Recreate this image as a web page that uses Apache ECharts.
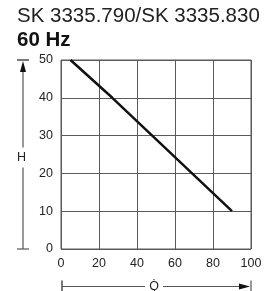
<!DOCTYPE html>
<html>
<head>
<meta charset="utf-8">
<script src="https://cdn.jsdelivr.net/npm/echarts@6/dist/echarts.min.js"></script>
<style>
html, body { margin: 0; padding: 0; background: #fff; }
#chart { width: 278px; height: 291px; }
</style>
</head>
<body>
<div id="chart"></div>
<script>
// pump curve
var flowQ = [5, 27, 48, 69, 90];
var headH = [50, 40, 30, 20, 10];
var titleText = 'SK 3335.790/SK 3335.830';
var subText = '60 Hz';

var chart = echarts.init(document.getElementById('chart'));
var gridCol = '#5a5a5a';

var option = {
    animation: false,
    title: [
        { text: titleText, left: 12, top: 1,
          textStyle: { fontFamily: 'Liberation Sans', fontWeight: 'normal', fontSize: 20.5, color: '#222' } },
        { text: subText, left: 12, top: 25,
          textStyle: { fontFamily: 'Liberation Sans', fontWeight: 'bold', fontSize: 20.5, color: '#111' } }
    ],
    grid: { left: 61, right: 27, top: 60, bottom: 42, show: true, borderColor: gridCol, borderWidth: 1 },
    xAxis: {
        type: 'value', min: 0, max: 100, interval: 20,
        axisLine: { show: false }, axisTick: { show: false },
        axisLabel: { color: '#222', fontSize: 12.5, fontFamily: 'Liberation Sans', margin: 8 },
        splitLine: { lineStyle: { color: gridCol, width: 1 } }
    },
    yAxis: {
        type: 'value', min: 0, max: 50, interval: 10,
        axisLine: { show: false }, axisTick: { show: false },
        axisLabel: { color: '#222', fontSize: 12.5, fontFamily: 'Liberation Sans', margin: 8 },
        splitLine: { lineStyle: { color: gridCol, width: 1 } }
    },
    series: [{
        type: 'line',
        data: flowQ.map(function (q, i) { return [q, headH[i]]; }),
        showSymbol: false,
        lineStyle: { color: '#111', width: 2.5 }
    }]
};
chart.setOption(option);

// dimension arrows for H and Q, placed from the grid's own pixel positions
var p0 = chart.convertToPixel({ gridIndex: 0 }, [0, 0]);
var p1 = chart.convertToPixel({ gridIndex: 0 }, [100, 50]);
var ax = 23, ay = 286.5;
var ln = { stroke: '#555', lineWidth: 1.2 };
var midY = (p0[1] + p1[1]) / 2 + 3;
var midX = (p0[0] + p1[0]) / 2 - 2;
chart.setOption({
    graphic: [
        // vertical H
        { type: 'line', shape: { x1: ax - 6, y1: p1[1], x2: ax + 6, y2: p1[1] }, style: { stroke: '#222', lineWidth: 1.2 } },
        { type: 'line', shape: { x1: ax - 6, y1: p0[1], x2: ax + 6, y2: p0[1] }, style: ln },
        { type: 'line', shape: { x1: ax, y1: p1[1] + 4, x2: ax, y2: midY - 10 }, style: ln },
        { type: 'line', shape: { x1: ax, y1: midY + 10, x2: ax, y2: p0[1] }, style: ln },
        { type: 'polygon', shape: { points: [[ax, p1[1] + 1], [ax - 3, p1[1] + 12], [ax + 3, p1[1] + 12]] }, style: { fill: '#111' } },
        { type: 'text', x: ax - 1.5, y: midY, style: { text: 'H', fontSize: 12.5, fontFamily: 'Liberation Sans', fill: '#222', align: 'center', verticalAlign: 'middle' } },
        // horizontal Q
        { type: 'line', shape: { x1: p0[0] + 1, y1: ay - 6, x2: p0[0] + 1, y2: ay + 6 }, style: { stroke: '#222', lineWidth: 1.2 } },
        { type: 'line', shape: { x1: p1[0], y1: ay - 6, x2: p1[0], y2: ay + 6 }, style: ln },
        { type: 'line', shape: { x1: p0[0] + 1, y1: ay, x2: midX - 9, y2: ay }, style: ln },
        { type: 'line', shape: { x1: midX + 9, y1: ay, x2: p1[0] - 4, y2: ay }, style: ln },
        { type: 'polygon', shape: { points: [[p1[0] - 1, ay], [p1[0] - 12, ay - 3], [p1[0] - 12, ay + 3]] }, style: { fill: '#111' } },
        { type: 'text', x: midX, y: ay, style: { text: 'Q\u0307', fontSize: 12.5, fontFamily: 'Liberation Sans', fill: '#222', align: 'center', verticalAlign: 'middle' } }
    ]
});
</script>
</body>
</html>
